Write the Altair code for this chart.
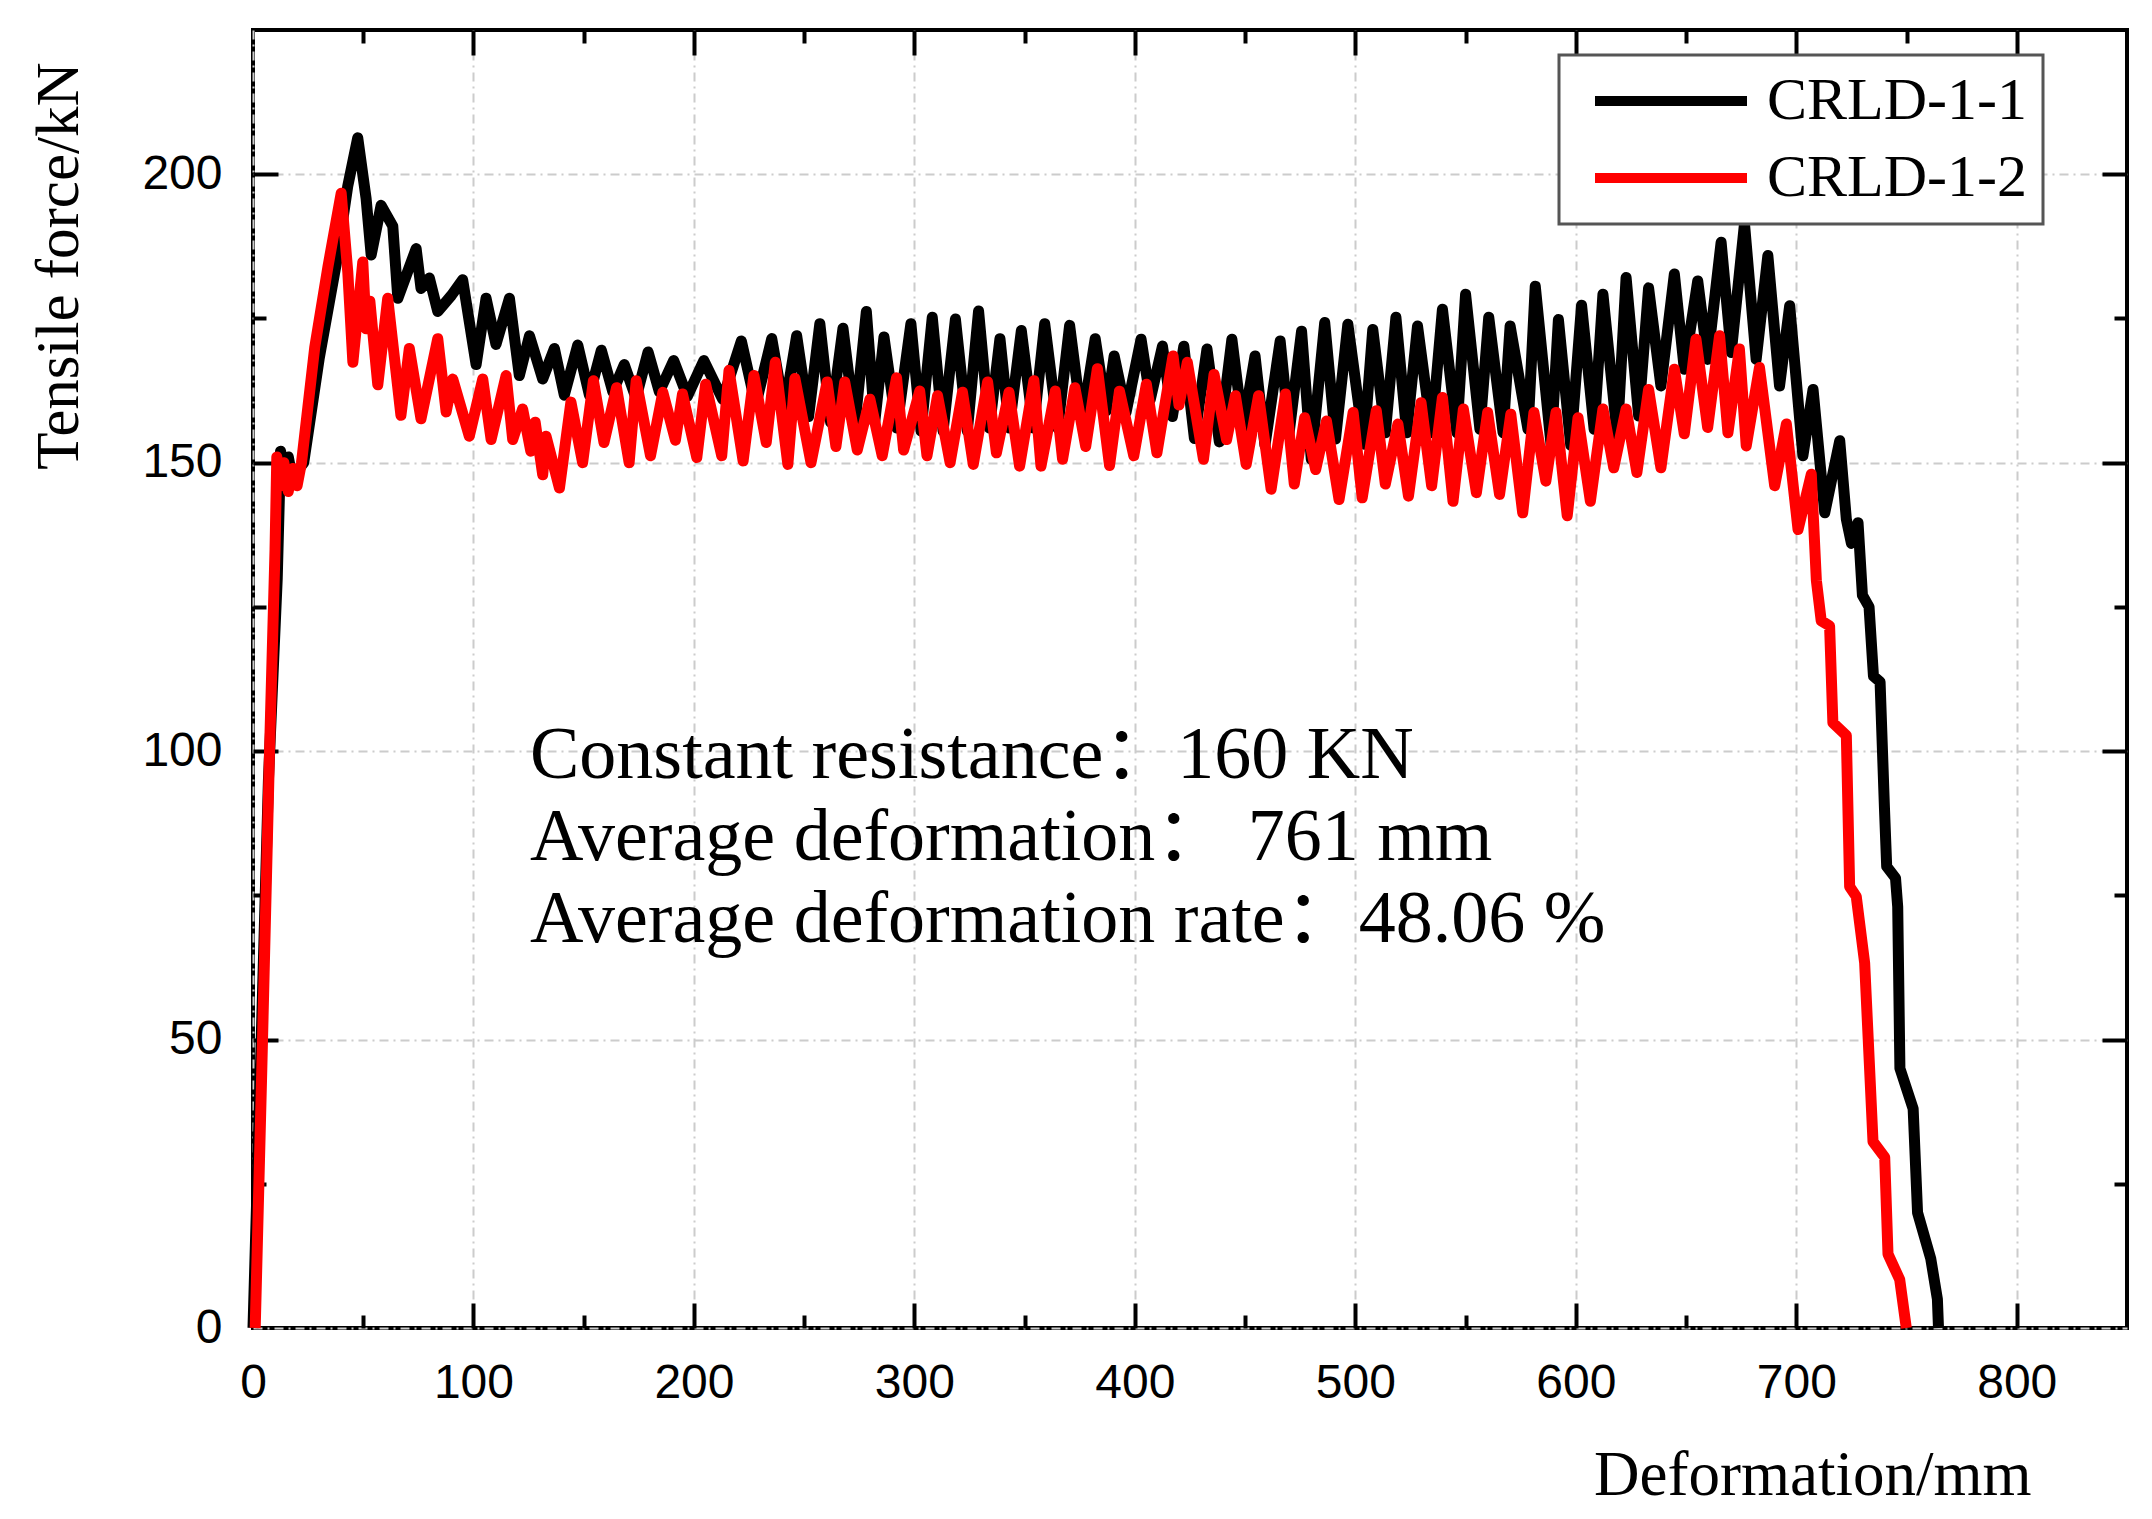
import altair as alt
import pandas as pd

# CRLD-1-1 (black)
crld11_def = [0, 3, 7, 11, 12.5, 14, 16, 18, 21, 23, 30, 38, 43, 47.5, 51.3, 53.6, 58.1, 63.4, 65.7, 74,
              76.2, 80, 83.8, 90, 95.1, 101.2, 105.7, 110.2, 116.3, 120.8, 125.4, 131.4, 136.7, 141.2, 147.3,
              152.6, 158, 163.2, 168.4, 173.7, 179.2, 184.3, 190.8, 197, 204.5, 213, 221.5, 228, 235.3, 241,
              246.6, 252, 257.1, 262, 267.6, 273, 278.2, 282, 286.2, 292, 298.4, 303, 308.1, 313, 318.6, 324,
              329.1, 334, 338.8, 343, 348.5, 354, 359.1, 365, 370.4, 376, 382, 387, 390.6, 396, 402.8, 407,
              412.5, 417, 422.2, 427, 432.7, 438.3, 444, 449, 454.5, 459, 465.9, 470, 475.6, 480, 486.1, 491,
              496.6, 503.9, 507.9, 513.6, 518.4, 523.3, 528.2, 534.6, 539.5, 546, 550, 556.5, 560.5, 567,
              570.2, 578.3, 581.6, 588.8, 592.1, 597.7, 602.6, 608.3, 612.3, 618.8, 622.8, 628.5, 633, 638.6,
              644.7, 649.2, 655.3, 659.8, 665.9, 670.5, 676.5, 681.8, 687.1, 692.4, 697, 703, 707.6, 712.9,
              719.7, 722.7, 725, 728, 730, 733, 735, 738, 740, 741, 745, 746, 747, 753, 755, 761, 764, 764.5]
crld11_force = [0, 40, 95, 130, 152, 148, 151, 147, 149, 150, 168, 185, 198, 206.3, 195.8, 186, 194.6, 191, 178.5, 187.1,
                180.2, 182, 176.2, 179, 181.7, 167, 178.5, 170.5, 178.5, 165.1, 172, 164.5, 169.8, 161.7, 170.4,
                161.7, 169.5, 162.3, 167, 161.2, 169.2, 162.3, 167.7, 161.5, 167.7, 161, 171.1, 160, 171.5, 159,
                172, 158, 174.1, 157, 173.3, 156.5, 176.2, 157, 171.8, 156, 174.1, 155.5, 175.2, 155.5, 174.9, 155.5,
                176.3, 156, 171.5, 156, 172.9, 156, 174.1, 156, 173.8, 157, 171.5, 159, 168.5, 158.7, 171.4, 161,
                170.2, 158, 170.2, 154.2, 169.7, 153.6, 171.4, 156, 168.5, 153, 171.1, 155.3, 172.8, 150.6, 174.3, 154.1,
                174, 153.2, 173.1, 155.2, 175.2, 155.2, 173.7, 155.2, 176.6, 155.2, 179.2, 155.8, 175.2, 155.2,
                173.7, 155.8, 180.6, 153, 174.8, 153, 177.3, 155.8, 179.2, 154.6, 182.1, 158.1, 180.3, 163.3,
                182.7, 166.2, 181.5, 167.9, 188.2, 169.1, 191.4, 167.9, 185.9, 163.3, 177.2, 151.2, 162.7, 141.3,
                153.8, 140.2, 136, 139.6, 127, 125, 113, 112, 90, 80, 78, 73, 45, 38, 20, 12, 5, 0]

# CRLD-1-2 (red)
crld12_def = [1, 4, 7.5, 10, 10.8, 12.5, 14, 16, 18, 20, 22, 28, 34, 40, 43, 45.3, 49.8, 51.3, 53, 56.6, 61.1,
              67.1, 70.9, 76.2, 83.8, 87.6, 90.6, 98.1, 104.2, 108, 114.8, 117.8, 122.3, 126, 128, 131.4, 132.9,
              139, 144.2, 149.5, 154.4, 159.2, 164.9, 170.6, 173.8, 180.3, 185.9, 191.6, 194.8, 201.3, 205.3,
              212.6, 215.9, 222.3, 227.2, 232.8, 236.9, 242.6, 245.8, 253.1, 260.4, 264.4, 268.4, 274.1, 279.8,
              285.4, 291.9, 295.1, 302.4, 305.7, 310.5, 316.2, 321.8, 326.7, 333.2, 337.2, 342.9, 347.7, 354.2,
              357.4, 363.9, 367.2, 372.8, 377.7, 383, 388.5, 393, 399.5, 405.2, 410, 417.3, 420, 423.8, 431.1,
              435.9, 441.6, 445.6, 450.5, 456.1, 461.8, 468.3, 472.3, 477, 482, 486.9, 492.6, 499, 503.1, 509.5,
              513.6, 519.3, 524.1, 529.8, 534.6, 539.5, 544.3, 549, 554.9, 560, 565.4, 570.5, 575.9, 581, 586.4,
              591, 596.1, 601, 606.6, 612.3, 617.2, 622.8, 627.7, 633, 638.6, 644.7, 649.2, 654.5, 659.8, 665.2,
              669, 674.2, 677.3, 683.3, 690.2, 695.5, 700.8, 706.8, 709.1, 711.3, 715.1, 716.6, 722.7, 724.2,
              727.2, 731, 734.8, 740.1, 741.6, 746.9, 749.9]
crld12_force = [0, 45, 100, 135, 151, 146, 150, 145, 149, 146, 150, 170, 184, 196.7, 183, 167.4, 184.8, 173.2, 178, 163.5, 178.5,
                158.2, 169.8, 157.6, 171.5, 158.8, 164.5, 154.6, 164.5, 154, 165.1, 154, 159.3, 152, 157, 147.9, 154.6,
                145.6, 160.5, 150, 164.2, 153.5, 163, 150, 164.2, 151.2, 162.2, 153.9, 161.9, 150.9, 163.6,
                151.2, 166, 150.3, 165.1, 153.5, 167.4, 149.7, 164.6, 150, 164, 152.8, 164, 152.2, 161,
                151.2, 164.7, 152.2, 162.4, 151.2, 161.6, 150, 162.2, 149.7, 164, 151.7, 162.2, 149.4, 164.2,
                149.4, 162.4, 150.6, 163, 152.8, 166.3, 149.5, 162.4, 151.2, 163.6, 151.7, 168.5, 160, 167.4, 150.6,
                165.3, 154, 161.6, 149.7, 161.6, 145.4, 161.9, 146.3, 157.8, 148.8, 157.2, 143.6, 158.7, 143.9, 159,
                146.3, 156.7, 144.2, 160.4, 146, 161.3, 143.3, 159.3, 144.8, 158.7, 144.5, 158.4, 141.3, 158.7, 146.8,
                158.7, 140.8, 157.8, 143.3, 159.3, 149.1, 159.3, 148.3, 162.7, 149.1, 166.2, 155, 171.4, 156.1, 172,
                155.2, 169.7, 152.9, 166.5, 146, 156.7, 138.4, 148, 129.6, 122.6, 121.7, 104.9, 102.7, 76.5,
                74.8, 63.3, 32.3, 29.6, 12.8, 8.4, 0]

series_names = ["CRLD-1-1", "CRLD-1-2"]
series_colors = ["#000000", "#ff0000"]

x_major = [100, 200, 300, 400, 500, 600, 700, 800]
x_minor = [50, 150, 250, 350, 450, 550, 650, 750]
y_major = [50, 100, 150, 200]
y_minor = [25, 75, 125, 175]

notes = ["Constant resistance\uff1a160 KN",
         "Average deformation\uff1a\u00a0761 mm",
         "Average deformation rate\uff1a48.06 %"]

df = pd.concat([
    pd.DataFrame({"def": crld11_def, "force": crld11_force, "series": series_names[0]}),
    pd.DataFrame({"def": crld12_def, "force": crld12_force, "series": series_names[1]}),
])

W, H = 1874, 1298
xs = alt.Scale(domain=[0, 850], nice=False)
ys = alt.Scale(domain=[0, 225], nice=False)
serif = "Liberation Serif"
note_font = "'Liberation Serif', 'Noto Sans CJK SC'"
sans = "Liberation Sans"

lines = alt.Chart(df).mark_line(strokeWidth=11, strokeJoin="round").encode(
    x=alt.X("def:Q", scale=xs, axis=alt.Axis(
        title="Deformation/mm", values=[0] + x_major, format="d", labelFlush=False,
        labelFont=sans, labelFontSize=48, labelPadding=31, labelColor="black",
        ticks=False, domain=False,
        grid=True, gridColor="#cccccc", gridDash=[9, 5, 2, 5], gridWidth=2,
        titleFont=serif, titleFontSize=63, titleFontWeight="normal", titleColor="black",
        titleX=1778, titleY=166, titleAlign="right", titleBaseline="alphabetic")),
    y=alt.Y("force:Q", scale=ys, axis=alt.Axis(
        title="Tensile force/kN", values=[0] + y_major, format="d", labelFlush=False,
        labelFont=sans, labelFontSize=48, labelPadding=31, labelColor="black",
        ticks=False, domain=False,
        grid=True, gridColor="#cccccc", gridDash=[9, 5, 2, 5], gridWidth=2,
        titleFont=serif, titleFontSize=61, titleFontWeight="normal", titleColor="black",
        titleX=-176, titleY=32, titleAngle=-90, titleAlign="right", titleBaseline="alphabetic")),
    color=alt.Color("series:N", scale=alt.Scale(domain=series_names, range=series_colors),
                    legend=alt.Legend(title=None, orient="none", legendX=1306, legendY=25)),
)


def tick_layer(xo, xoff, xv, yo, yoff, yv, size):
    return alt.Chart(df).mark_point(opacity=0).encode(
        x=alt.X("def:Q", scale=xs, axis=alt.Axis(
            orient=xo, offset=xoff, values=xv, tickSize=size, tickWidth=4, tickColor="black",
            labels=False, domain=False, grid=False, title=None)),
        y=alt.Y("force:Q", scale=ys, axis=alt.Axis(
            orient=yo, offset=yoff, values=yv, tickSize=size, tickWidth=4, tickColor="black",
            labels=False, domain=False, grid=False, title=None)),
    )


ticks_a = tick_layer("top", -H, x_major, "right", -W, y_major, 25)
ticks_b = tick_layer("top", -H, x_minor, "right", -W, y_minor, 13)
ticks_c = tick_layer("bottom", -H, x_major, "left", -W, y_major, 25)
ticks_d = tick_layer("bottom", -H, x_minor, "left", -W, y_minor, 13)

note = alt.Chart(pd.DataFrame({"t": ["\n".join(notes)]})).mark_text(
    align="left", baseline="alphabetic", font=note_font, fontSize=74, lineBreak="\n",
    lineHeight=82, color="black",
).encode(text="t:N", x=alt.value(277), y=alt.value(748))

chart = alt.layer(lines, ticks_a, ticks_b, ticks_c, ticks_d, note).resolve_axis(
    x="independent", y="independent"
).properties(
    width=W, height=H,
    autosize=alt.AutoSizeParams(type="none"),
    padding={"left": 245, "top": 22, "right": 17, "bottom": 183},
).configure(background="white").configure_view(
    stroke="black", strokeWidth=4
).configure_legend(
    padding=16, strokeColor="#555555", strokeWidth=3, fillColor="white",
    symbolType="stroke", symbolSize=23104, symbolStrokeWidth=10, symbolOffset=15,
    labelFont=serif, labelFontSize=60, labelOffset=15, labelColor="black", rowPadding=17,
    clipHeight=60, labelLimit=0,
)

chart.save("out.html", embed_options={"renderer": "svg", "actions": False})
